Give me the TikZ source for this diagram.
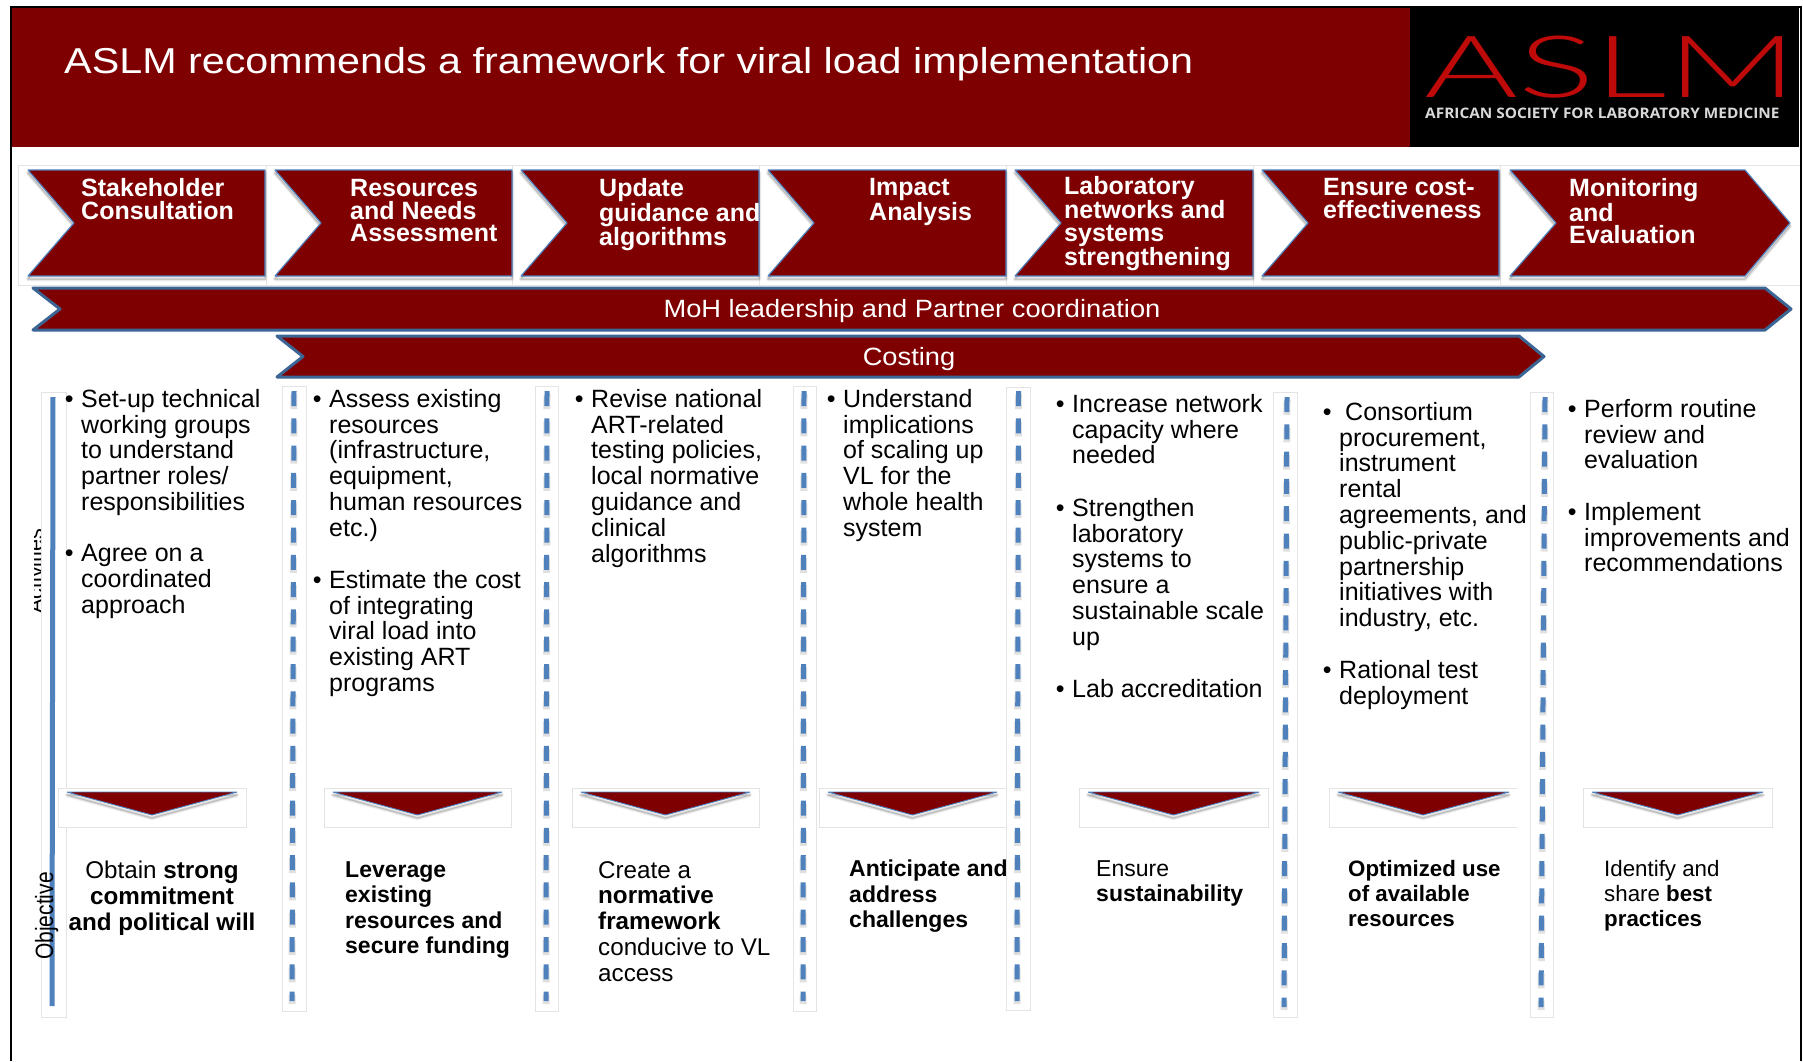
\documentclass[tikz,border=0pt]{standalone}
\usepackage{fontspec}
\setmainfont{Liberation Sans}
\newfontfamily\logofont{Lato Light}
\newfontfamily\logosub{Open Sans}
\definecolor{maroon}{HTML}{7F0000}
\definecolor{logored}{HTML}{BF0A0A}
\definecolor{stepblue}{HTML}{4F81BD}
\definecolor{bardark}{HTML}{3A6594}
\definecolor{boxgray}{HTML}{E4E4E4}
\newcommand{\bl}{\leavevmode\llap{\textbullet\hspace{7.5pt}}}
\tikzset{
  x=1pt,y=-1pt,
  softshade/.style={
    preaction={draw=black,draw opacity=.06,line width=4.5pt,line join=round,transform canvas={yshift=-3pt}},
    preaction={draw=black,draw opacity=.09,line width=2.6pt,line join=round,transform canvas={yshift=-3pt}},
    preaction={draw=black,draw opacity=.14,line width=1pt,line join=round,transform canvas={yshift=-3pt}}},
  chevron/.style={softshade,fill=maroon,draw=stepblue,line width=1.2pt,line join=bevel},
  bar/.style={fill=maroon,draw=bardark,line width=3pt,line join=round},
  tri/.style={softshade,fill=maroon,draw=stepblue,line width=.9pt,line join=bevel},
  lightbox/.style={draw=boxgray,line width=.8pt,fill=white},
  divider/.style={draw=stepblue,line width=5pt,dash pattern=on 15pt off 12.3pt},
  dividershade/.style={draw=black,draw opacity=.12,line width=7pt,dash pattern=on 15pt off 12.3pt},
  head/.style={inner sep=0pt,text=white,align=left,anchor=north west,font=\fontsize{25}{22.7}\selectfont\bfseries},
  body/.style={inner sep=0pt,text=black,align=left,anchor=north west,font=\fontsize{25}{25.8}\selectfont},
  goal/.style={inner sep=0pt,text=black,align=left,anchor=north west,font=\fontsize{23}{25.5}\selectfont},
  goalbig/.style={goal,font=\fontsize{24.2}{25.8}\selectfont},
  goalsmall/.style={goal,font=\fontsize{22.3}{25}\selectfont},
  barlabel/.style={inner sep=0pt,text=white,anchor=base,xscale=1.09,font=\fontsize{25}{28}\selectfont},
}
\begin{document}
\begin{tikzpicture}
\useasboundingbox (0,0) rectangle (1803,1061);
\fill[white] (0,0) rectangle (1803,1061);
% frame
\draw[black,line width=2pt] (10.5,1061) -- (10.5,7) -- (1801,7) -- (1801,1061);
% header
\fill[maroon] (11.5,8) rectangle (1410,147);
\fill[black] (1410,8) rectangle (1799,147);
\node[inner sep=0pt,anchor=base west,text=white,xscale=1.147,font=\fontsize{36}{40}\selectfont] (title) at (64,73) {ASLM recommends a framework for viral load implementation};
\node[inner sep=0pt,anchor=base west,text=logored,font=\logofont\fontsize{86}{90}\selectfont,xscale=1.665] (logo) at (1424,97) {ASLM};
\node[inner sep=0pt,anchor=base west,text=white!85!black,xscale=1.06,font=\logosub\fontsize{14.5}{16}\selectfont\bfseries] (logosub) at (1425,118) {AFRICAN SOCIETY FOR LABORATORY MEDICINE};
% chevron background
\draw[boxgray,line width=.7pt] (18,285) -- (18,165) -- (1800,165);
\draw[boxgray,line width=.7pt] (18,285) -- (1800,285);
\foreach \sx in {266,512,759,1006,1253,1500}{\draw[boxgray,line width=.7pt] (\sx,165) -- (\sx,285);}
% chevrons
\foreach \sx/\ex in {28/265,275/512,521/759,768/1006,1015/1253,1262/1499}{
  \draw[chevron] (\sx,170) -- (\ex,170) -- (\ex,276) -- (\sx,276) -- (\sx+46,223) -- cycle;}
\draw[chevron] (1510,170) -- (1745,170) -- (1790,223) -- (1745,276) -- (1510,276) -- (1556,223) -- cycle;
\node[head] (h1) at (81,178.5) {Stakeholder\\Consultation};
\node[head] (h2) at (350,179) {Resources\\and Needs\\Assessment};
\begin{scope}
\clip (521,165) rectangle (759,285);
\node[head] (h3) at (599,178.5) {Update\\guidance and\\algorithms};
\end{scope}
\node[head] (h4) at (869,178.5) {Impact\\Analysis};
\node[head] (h5) at (1064,176) {Laboratory\\networks and\\systems\\strengthening};
\node[head] (h6) at (1323,178.5) {Ensure cost-\\effectiveness};
\node[head] (h7) at (1569,178.5) {Monitoring\\and\\Evaluation};
% bars
\draw[bar] (33,288) -- (1765,288) -- (1791,309) -- (1765,330) -- (33,330) -- (60,309) -- cycle;
\node[barlabel] (moh) at (912,317) {MoH leadership and Partner coordination};
\draw[bar] (277,336) -- (1519,336) -- (1544,356.5) -- (1519,377) -- (277,377) -- (303,356.5) -- cycle;
\node[barlabel] (cost) at (909,365) {Costing};
% side labels
\begin{scope}
\clip (34,525) rectangle (43,616);
\node[inner sep=0pt,anchor=base west,rotate=90,font=\fontsize{21.5}{24}\selectfont] (act) at (42.5,614) {Activities};
\end{scope}
% column strips
\draw[lightbox] (41,392) rectangle (66,1017);
\draw[stepblue,line width=5pt] (53,397) -- (52,1006);
\foreach \xa/\xb/\ya/\yb/\ba/\bb/\bt/\bz in {
  294/292/391/1001/282/306/386/1011,
  547/546/391/1001/535/558/386/1011,
  804/803/391/1001/793/816/386/1011,
  1018.5/1017/391/1001/1006/1030/387/1010,
  1287/1284/397/1007/1273/1297/392/1017,
  1545/1541/397/1007/1530/1553/392/1017}{
  \draw[lightbox] (\ba,\bt) rectangle (\bb,\bz);
  \draw[dividershade] (\xa,\ya+3) -- (\xb,\yb+3);
  \draw[divider] (\xa,\ya) -- (\xb,\yb);
}
\node[inner sep=0pt,anchor=base west,rotate=90,xscale=.84,font=\fontsize{25}{27}\selectfont] (obj) at (53,960) {Objective};
% triangles
\foreach \ba/\bb in {58/246,324/511,572/759,819/1006,1079/1268,1583/1772}{
  \draw[lightbox] (\ba,788) rectangle (\bb,827);
  \draw[tri] (\ba+9,792) -- (\bb-9,792) -- ({(\ba+\bb)/2},815) -- cycle;
}
\draw[boxgray,line width=.8pt,fill=white] (1517,788) -- (1329,788) -- (1329,827) -- (1517,827);
\draw[tri] (1338,792) -- (1509,792) -- (1423,815) -- cycle;
% body text
\node[body] (b1a) at (81,389) {\bl Set-up technical\\working groups\\to understand\\partner roles/\\responsibilities};
\node[body] (b1b) at (81,544) {\bl Agree on a\\coordinated\\approach};
\node[body] (b2a) at (329,389) {\bl Assess existing\\resources\\(infrastructure,\\equipment,\\human resources\\etc.)};
\node[body] (b2b) at (329,570) {\bl Estimate the cost\\of integrating\\viral load into\\existing ART\\programs};
\node[body] (b3a) at (591,389) {\bl Revise national\\ART-related\\testing policies,\\local normative\\guidance and\\clinical\\algorithms};
\node[body] (b4a) at (843,389) {\bl Understand\\implications\\of scaling up\\VL for the\\whole health\\system};
\node[body] (b5a) at (1072,394) {\bl Increase network\\capacity where\\needed};
\node[body] (b5b) at (1072,498) {\bl Strengthen\\laboratory\\systems to\\ensure a\\sustainable scale\\up};
\node[body] (b5c) at (1072,679) {\bl Lab accreditation};
\node[body] (b6a) at (1339,402) {\leavevmode\llap{\textbullet\hspace{7.5pt}}\hspace{6pt}Consortium\\procurement,\\instrument\\rental\\agreements, and\\public-private\\partnership\\initiatives with\\industry, etc.};
\node[body] (b6b) at (1339,660) {\bl Rational test\\deployment};
\node[body] (b7a) at (1584,399) {\bl Perform routine\\review and\\evaluation};
\node[body] (b7b) at (1584,502) {\bl Implement\\improvements and\\recommendations};
% objectives
\node[goalbig,align=center,anchor=north] (g1) at (162,861) {Obtain \textbf{strong}\\\textbf{commitment}\\\textbf{and political will}};
\node[goal] (g2) at (345,861) {\textbf{Leverage}\\\textbf{existing}\\\textbf{resources and}\\\textbf{secure funding}};
\node[goalbig] (g3) at (598,861) {Create a\\\textbf{normative}\\\textbf{framework}\\conducive to VL\\access};
\node[goal] (g4) at (849,860) {\textbf{Anticipate and}\\\textbf{address}\\\textbf{challenges}};
\node[goal] (g5) at (1096,860) {Ensure\\\textbf{sustainability}};
\node[goalsmall] (g6) at (1348,860) {\textbf{Optimized use}\\\textbf{of  available}\\\textbf{resources}};
\node[goalsmall] (g7) at (1604,860) {Identify and\\share \textbf{best}\\\textbf{practices}};
\end{tikzpicture}
\end{document}
